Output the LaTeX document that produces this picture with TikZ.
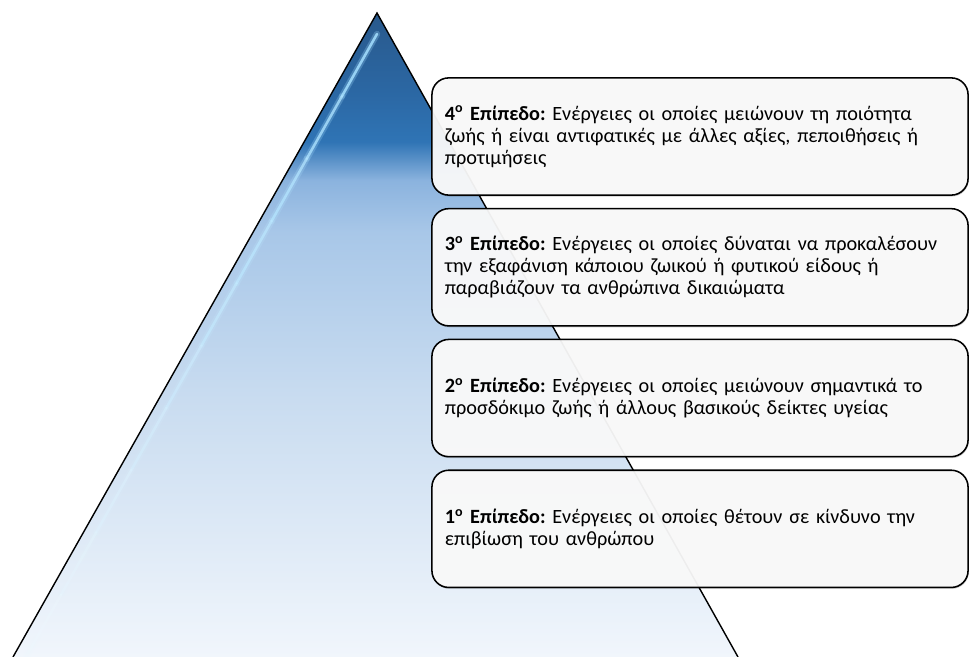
\documentclass[tikz,border=0pt]{standalone}
\usepackage{fontspec}
\setmainfont{Carlito}
\frenchspacing
\usetikzlibrary{positioning,shadows,calc}
\definecolor{pyrApex}{HTML}{29598C}
\definecolor{pyrDark}{HTML}{2B67A3}
\definecolor{pyrMid}{HTML}{2F74B5}
\definecolor{pyrSoft}{HTML}{8BB3DE}
\definecolor{pyrLight}{HTML}{A8C7E8}
\definecolor{pyrPale}{HTML}{C9DCF0}
\definecolor{pyrMist}{HTML}{DDE9F6}
\definecolor{pyrBase}{HTML}{F1F6FC}
\definecolor{streak}{HTML}{9ADCFF}
\pgfdeclareverticalshading{pyrshade}{100bp}{color(0bp)=(pyrBase); color(25bp)=(pyrBase); color(35bp)=(pyrMist); color(45bp)=(pyrPale); color(58bp)=(pyrLight); color(62bp)=(pyrSoft); color(65bp)=(pyrMid); color(69bp)=(pyrDark); color(75bp)=(pyrApex); color(100bp)=(pyrApex)}
\tikzset{
  levelbox/.style={draw=black, line width=1.1pt, rounded corners=0.42cm,
    fill=white!99!black, fill opacity=0.94, text opacity=1,
    minimum width=13.4cm, minimum height=2.93cm, text width=12.75cm,
    inner xsep=0.325cm, align=left, font=\fontsize{14.4}{15.6}\selectfont,
    drop shadow={shadow xshift=0.5pt, shadow yshift=-1pt, opacity=0.2, fill=black}}
}
\newcommand{\lvl}[1]{\textbf{#1\textsuperscript{ο} Επίπεδο:}}

\begin{document}
\begin{tikzpicture}[x=0.025cm,y=-0.025cm]
  \useasboundingbox (0,0) rectangle (969,657);
  \coordinate (apex) at (377,13);
  \coordinate (baseL) at (13,657);
  \coordinate (baseR) at (738,657);
  \coordinate (glowTop) at (377,34);
  \coordinate (glowEnd) at (26,657);
  \shade[shading=pyrshade] (apex)--(baseR)--(baseL)--cycle;
  \foreach \i in {0,...,9}{
    \pgfmathsetmacro{\fade}{0.85-0.06*\i}
    \pgfmathsetmacro{\mix}{90-8*\i}
    \draw[streak!\mix!white, line width=4.5pt, opacity=0.3*\fade, line cap=round]
      ($(glowTop)!\i/10!(glowEnd)$)--($(glowTop)!\i/10+0.1!(glowEnd)$);
    \draw[streak!\mix!white, line width=1.8pt, opacity=\fade, line cap=round]
      ($(glowTop)!\i/10!(glowEnd)$)--($(glowTop)!\i/10+0.1!(glowEnd)$);
  }
  \draw[line width=1pt] (baseL)--(apex)--(baseR);

  \node[levelbox] (box4) at (700,136.5) {\lvl{4} Ενέργειες οι οποίες μειώνουν τη ποιότητα\\ζωής ή είναι αντιφατικές με άλλες αξίες, πεποιθήσεις ή\\προτιμήσεις};
  \node[levelbox, below=0.3cm of box4] (box3) {\lvl{3} Ενέργειες οι οποίες δύναται να προκαλέσουν\\την εξαφάνιση κάποιου ζωικού ή φυτικού είδους ή\\παραβιάζουν τα ανθρώπινα δικαιώματα};
  \node[levelbox, below=0.3cm of box3] (box2) {\lvl{2} Ενέργειες οι οποίες μειώνουν σημαντικά το\\προσδόκιμο ζωής ή άλλους βασικούς δείκτες υγείας};
  \node[levelbox, below=0.3cm of box2] (box1) {\lvl{1} Ενέργειες οι οποίες θέτουν σε κίνδυνο την\\επιβίωση του ανθρώπου};
\end{tikzpicture}
\end{document}
